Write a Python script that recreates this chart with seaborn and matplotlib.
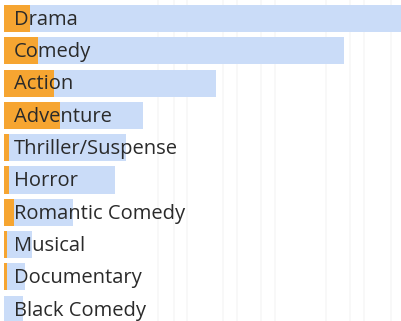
import matplotlib
matplotlib.use("Agg")
import matplotlib.pyplot as plt
import seaborn as sns
import pandas as pd

genres = ["Drama", "Comedy", "Action", "Adventure", "Thriller/Suspense",
          "Horror", "Romantic Comedy", "Musical", "Documentary", "Black Comedy"]
total = [400, 340, 212, 139, 122, 111, 69, 28, 21, 19]
highlight = [26, 34, 50, 56, 5, 5, 10, 3, 3, 0]
grid_at = [154, 170, 183, 219, 233, 257, 271, 322, 346, 360, 387]

df = pd.DataFrame({"genre": genres, "total": total, "highlight": highlight})

sns.set_theme(style="white")
plt.rcParams["font.family"] = ["Open Sans", "DejaVu Sans"]

fig = plt.figure(figsize=(4.01, 3.21), dpi=100)
ax = fig.add_axes([4 / 401, 0, 397 / 401, 1])

for g in grid_at:
    ax.axvline(g, color="#f7f7f7", lw=1.2, zorder=0)

sns.barplot(data=df, y="genre", x="total", orient="h", color="#cadcf8",
            saturation=1, width=0.84, linewidth=0, ax=ax, zorder=1)
sns.barplot(data=df, y="genre", x="highlight", orient="h", color="#f6a531",
            saturation=1, width=0.84, linewidth=0, ax=ax, zorder=2)

for i, name in enumerate(genres):
    ax.text(10, i + 0.04, name, va="center", ha="left", fontsize=14.5,
            color="#2a2a2a", zorder=3)

ax.set_xlim(0, 397)
ax.set_ylim(9.365, -0.573)
ax.set_axis_off()

fig.savefig("out.png", dpi=100, facecolor="white")
